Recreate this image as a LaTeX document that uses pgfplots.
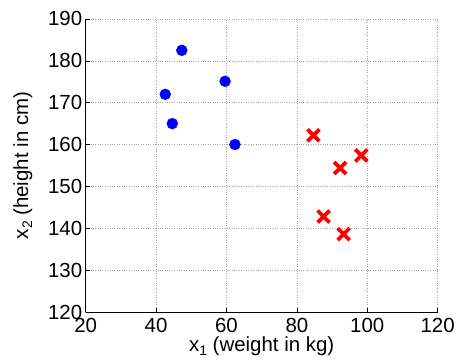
\documentclass[border=0pt]{standalone}
\usepackage{fontspec}
\setmainfont{Liberation Sans}
\usepackage{pgfplots}
\pgfplotsset{compat=1.18}
\newcommand{\sub}[1]{\raisebox{-0.38ex}{\fontsize{14}{14}\selectfont #1}}
\begin{document}
\begin{tikzpicture}
\begin{axis}[
  scale only axis,
  width=353pt, height=294pt,
  xmin=20, xmax=120, ymin=120, ymax=190,
  xtick={20,40,...,120}, ytick={120,130,...,190},
  axis x line*=bottom, axis y line*=left,
  axis line style={black, line width=0.8pt, -},
  tick align=inside, major tick length=4pt,
  tick style={black, line width=0.6pt},
  grid=major,
  major grid style={gray!70, dotted, line width=0.6pt},
  /pgf/number format/assume math mode=true,
  /pgf/number format/1000 sep={},
  ticklabel style={font=\fontsize{20.5}{22}\selectfont},
  xticklabel style={yshift=-3pt},
  yticklabel style={xshift=0pt},
  label style={font=\fontsize{20.5}{22}\selectfont},
  xlabel={x\sub{1} (weight in kg)},
  ylabel={x\sub{2} (height in cm)},
  xlabel style={at={(axis description cs:0.5,-0.136)}, anchor=base},
  ylabel style={at={(axis description cs:-0.164,0.5)}, anchor=base},
  clip=false,
  after end axis/.code={
    \path ([xshift=-86pt,yshift=-47pt]current axis.south west) rectangle ([xshift=19pt,yshift=19pt]current axis.north east);
  },
]
\addplot[only marks, mark=*, mark size=5.5pt, mark options={fill=blue, draw=blue}]
coordinates {(47.3,182.5) (42.6,172) (44.6,165) (59.6,175.1) (62.4,160)};
\addplot[only marks, mark=x, mark size=8.5pt, mark options={draw=red, line width=3.8pt}]
coordinates {(84.7,162.2) (98.3,157.4) (92.3,154.4) (87.6,142.8) (93.3,138.6)};
\end{axis}
\end{tikzpicture}
\end{document}
